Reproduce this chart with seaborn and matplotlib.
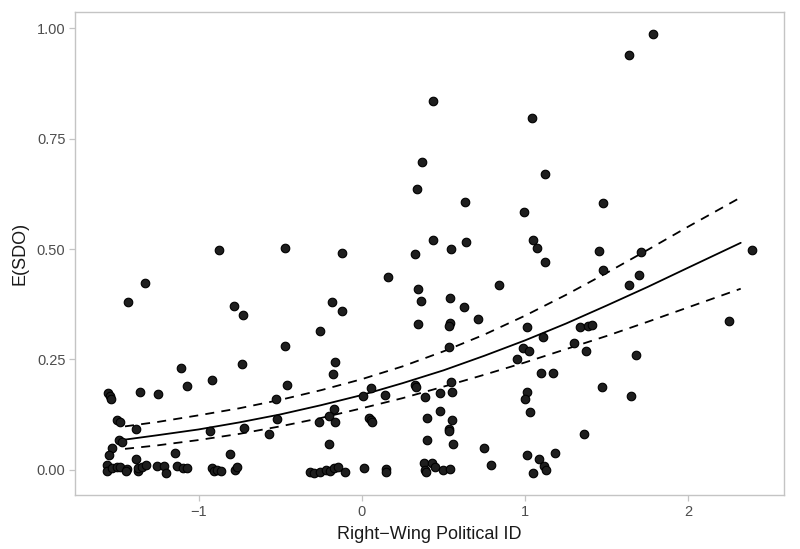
import matplotlib
matplotlib.use("Agg")
import matplotlib.pyplot as plt
import seaborn as sns
import pandas as pd

# observed points (Right-Wing Political ID vs E(SDO))
pol_id = [
    -1.552, -1.541, -1.538, -1.361, -1.251, -1.430, -1.326, -1.497, -1.483, -1.381,
    -1.487, -1.467, -1.528, -1.549, -1.381, -1.145, -0.807, -1.106, -1.073, -0.920,
    -0.782, -0.727, -0.733, -0.931, -0.723, -0.872, -1.558, -1.558, -1.528, -1.497,
    -1.483, -1.436, -1.442, -1.369, -1.369, -1.344, -1.324, -1.253, -1.212, -1.198,
    -1.130, -1.096, -1.069, -0.916, -0.906, -0.886, -0.865, -0.774, -0.763, -0.569,
    -0.519, -0.523, -0.456, -0.470, -0.468, -0.258, -0.180, -0.119, -0.162, -0.176,
    -0.172, -0.201, -0.263, -0.162, -0.202, -0.119, 0.007, 0.058, 0.144, 0.042,
    0.058, 0.064, 0.160, -0.315, -0.295, -0.254, -0.217, -0.193, -0.172, -0.148,
    -0.101, 0.011, 0.150, 0.150, 0.327, 0.370, 0.339, 0.435, 0.433, 0.347,
    0.362, 0.347, 0.327, 0.333, 0.388, 0.399, 0.398, 0.382, 0.388, 0.394,
    0.429, 0.450, 0.497, 0.541, 0.476, 0.476, 0.537, 0.627, 0.709, 0.541,
    0.535, 0.531, 0.546, 0.552, 0.552, 0.535, 0.531, 0.558, 0.543, 0.631,
    0.639, 0.837, 0.749, 0.789, 1.014, 1.110, 0.986, 1.026, 0.949, 1.333,
    1.385, 1.412, 1.301, 1.375, 1.095, 1.173, 1.471, 1.014, 0.997, 1.029,
    1.361, 1.014, 1.185, 1.086, 1.118, 1.130, 1.051, 1.043, 0.996, 1.120,
    1.047, 1.073, 1.124, 1.451, 1.477, 1.477, 1.638, 1.781, 1.636, 1.695,
    1.708, 1.679, 1.648, 2.246, 2.387,
]
sdo = [
    0.174, 0.166, 0.161, 0.176, 0.171, 0.381, 0.424, 0.113, 0.109, 0.093,
    0.068, 0.062, 0.049, 0.034, 0.023, 0.037, 0.036, 0.231, 0.190, 0.202,
    0.370, 0.351, 0.240, 0.087, 0.095, 0.498, 0.011, -0.004, 0.004, 0.006,
    0.006, 0.002, -0.004, -0.004, 0.004, 0.006, 0.011, 0.009, 0.009, -0.007,
    0.009, 0.004, 0.004, 0.004, -0.004, 0.000, -0.004, 0.000, 0.007, 0.081,
    0.115, 0.161, 0.192, 0.280, 0.502, 0.314, 0.379, 0.360, 0.244, 0.217,
    0.137, 0.121, 0.107, 0.107, 0.058, 0.491, 0.167, 0.185, 0.170, 0.118,
    0.113, 0.107, 0.436, -0.005, -0.007, -0.006, 0.000, -0.004, 0.004, 0.007,
    -0.006, 0.004, 0.002, -0.006, 0.489, 0.697, 0.636, 0.835, 0.521, 0.410,
    0.383, 0.330, 0.192, 0.187, 0.164, 0.118, 0.066, 0.015, 0.000, -0.006,
    0.014, 0.007, -0.002, 0.002, 0.174, 0.133, 0.388, 0.368, 0.341, 0.333,
    0.326, 0.279, 0.199, 0.177, 0.112, 0.092, 0.087, 0.057, 0.499, 0.606,
    0.517, 0.419, 0.050, 0.010, 0.324, 0.300, 0.275, 0.268, 0.251, 0.323,
    0.326, 0.328, 0.286, 0.269, 0.219, 0.219, 0.187, 0.175, 0.159, 0.131,
    0.081, 0.033, 0.037, 0.023, 0.009, 0.000, -0.008, 0.796, 0.584, 0.669,
    0.521, 0.503, 0.471, 0.496, 0.452, 0.605, 0.939, 0.987, 0.418, 0.440,
    0.493, 0.260, 0.166, 0.337, 0.497,
]

# fitted curve and its confidence band
fit_x = [-1.45, -1.25, -1.0, -0.75, -0.5, -0.25, 0.0, 0.25, 0.5,
         0.75, 1.0, 1.25, 1.5, 1.75, 2.0, 2.32]
fit_y = [0.068, 0.078, 0.091, 0.107, 0.125, 0.146, 0.169, 0.196, 0.225,
         0.258, 0.293, 0.331, 0.372, 0.414, 0.458, 0.514]
fit_hi = [0.098, 0.108, 0.123, 0.139, 0.158, 0.180, 0.205, 0.234, 0.268,
          0.306, 0.349, 0.396, 0.446, 0.498, 0.551, 0.617]
fit_lo = [0.047, 0.055, 0.067, 0.081, 0.098, 0.117, 0.139, 0.162, 0.188,
          0.215, 0.243, 0.273, 0.303, 0.335, 0.368, 0.410]

pts = pd.DataFrame({"x": pol_id, "y": sdo})
fit = pd.DataFrame({"x": fit_x, "fit": fit_y, "hi": fit_hi, "lo": fit_lo})

sns.set_theme(style="white")
plt.rcParams["font.family"] = ["Liberation Sans", "DejaVu Sans"]

fig, ax = plt.subplots(figsize=(8, 5.49), dpi=100)
fig.subplots_adjust(left=0.094, right=0.98, top=0.978, bottom=0.098)

sns.scatterplot(data=pts, x="x", y="y", ax=ax, s=38, color="#1e1e1e",
                edgecolor="black", linewidth=0.8, zorder=3)
sns.lineplot(data=fit, x="x", y="fit", ax=ax, color="black", linewidth=1.3, zorder=2)
sns.lineplot(data=fit, x="x", y="hi", ax=ax, color="black", linewidth=1.3,
             linestyle=(0, (5, 4)), zorder=2)
sns.lineplot(data=fit, x="x", y="lo", ax=ax, color="black", linewidth=1.3,
             linestyle=(0, (5, 4)), zorder=2)

ax.set_xlim(-1.755, 2.585)
ax.set_ylim(-0.058, 1.037)
ax.set_xticks([-1, 0, 1, 2])
ax.set_yticks([0, 0.25, 0.5, 0.75, 1.0])
ax.set_yticklabels(["0.00", "0.25", "0.50", "0.75", "1.00"])
ax.set_xlabel("Right\u2212Wing Political ID", fontsize=13, color="#1a1a1a", labelpad=5)
ax.set_ylabel("E(SDO)", fontsize=13, color="#1a1a1a", labelpad=6)

for side in ax.spines.values():
    side.set_color("#c4c4c4")
    side.set_linewidth(1.0)
ax.tick_params(axis="both", length=4, width=0.9, color="#c4c4c4",
               labelcolor="#4d4d4d", labelsize=10.5, pad=3,
               bottom=True, left=True)
ax.grid(False)

fig.savefig("out.png", dpi=100)
